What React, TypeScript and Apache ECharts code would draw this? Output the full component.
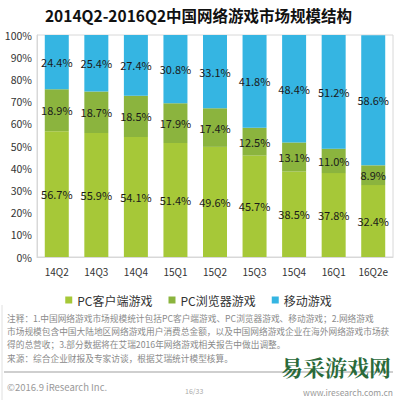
import React, { useEffect, useRef } from "react";
import * as echarts from "echarts";

const categories = ["14Q2", "14Q3", "14Q4", "15Q1", "15Q2", "15Q3", "15Q4", "16Q1", "16Q2e"];
const pcClient = [56.7, 55.9, 54.1, 51.4, 49.6, 45.7, 38.5, 37.8, 32.4];
const pcBrowser = [18.9, 18.7, 18.5, 17.9, 17.4, 12.5, 13.1, 11.0, 8.9];
const mobile = [24.4, 25.4, 27.4, 30.8, 33.1, 41.8, 48.4, 51.2, 58.6];
const seriesNames = ["PC客户端游戏", "PC浏览器游戏", "移动游戏"];
const title = "2014Q2-2016Q2中国网络游戏市场规模结构";
const notes = [
  "注释：1.中国网络游戏市场规模统计包括PC客户端游戏、PC浏览器游戏、移动游戏；2.网络游戏",
  "市场规模包含中国大陆地区网络游戏用户消费总金额，以及中国网络游戏企业在海外网络游戏市场获",
  "得的总营收；3.部分数据将在艾瑞2016年网络游戏相关报告中做出调整。",
  "来源：综合企业财报及专家访谈，根据艾瑞统计模型核算。",
];

const FONT = '"Noto Sans CJK SC", "Noto Sans", sans-serif';

export default function App() {
  const ref = useRef<HTMLDivElement>(null);
  useEffect(() => {
    if (!ref.current) return;
    const chart = echarts.init(ref.current, null, { renderer: "svg" });
    const colors = ["#A6C838", "#8BB43E", "#35B5E2"];
    const mkSeries = (name: string, data: number[], color: string) => ({
      name,
      type: "bar",
      stack: "total",
      data,
      barWidth: 24,
      itemStyle: { color },
      label: {
        show: true,
        position: "inside",
        color: "#1a1a1a",
        fontSize: 11,
        fontFamily: FONT,
        formatter: (p: any) => Number(p.value).toFixed(1) + "%",
      },
    });
    chart.setOption({
      animation: false,
      textStyle: { fontFamily: FONT },
      title: {
        text: title,
        left: "center",
        top: 2,
        textStyle: { fontSize: 15.5, fontWeight: "bold", color: "#111", fontFamily: FONT },
      },
      grid: {
        left: 37,
        right: 4,
        top: 35,
        bottom: 143,
        show: true,
        borderColor: "#d8d8d8",
        borderWidth: 1,
      },
      legend: {
        top: 289,
        left: "center",
        icon: "rect",
        itemWidth: 7,
        itemHeight: 7,
        itemGap: 16,
        textStyle: { fontSize: 12, color: "#333", fontFamily: FONT },
        data: seriesNames,
      },
      xAxis: {
        type: "category",
        data: categories,
        axisLine: { show: true, lineStyle: { color: "#d8d8d8" } },
        axisTick: { show: false },
        axisLabel: { color: "#333", fontSize: 10, margin: 9, interval: 0, fontFamily: FONT },
      },
      yAxis: {
        type: "value",
        min: 0,
        max: 100,
        interval: 10,
        splitLine: { show: false },
        axisLine: { show: true, lineStyle: { color: "#d8d8d8" } },
        axisTick: { show: false },
        axisLabel: { color: "#333", fontSize: 10.5, formatter: "{value}%", margin: 5, fontFamily: FONT },
      },
      series: [
        mkSeries(seriesNames[0], pcClient, colors[0]),
        mkSeries(seriesNames[1], pcBrowser, colors[1]),
        mkSeries(seriesNames[2], mobile, colors[2]),
      ],
      graphic: [
        ...notes.map((t, i) => ({
          type: "text",
          left: 7,
          top: 314 + i * 13.3,
          style: { text: t, fontSize: 8.7, fill: "#8a8a8a", fontFamily: FONT },
        })),
        { type: "line", shape: { x1: 4, y1: 372, x2: 393, y2: 372 }, style: { stroke: "#cfcfcf", lineWidth: 2 } },
        { type: "line", shape: { x1: 2, y1: 305, x2: 2, y2: 400 }, style: { stroke: "#e0e0e0", lineWidth: 1 } },
        {
          type: "text",
          left: 7,
          top: 382,
          style: { text: "©2016.9 iResearch Inc.", fontSize: 9.5, fill: "#999", fontFamily: FONT },
        },
        {
          type: "text",
          left: 185,
          top: 387,
          style: { text: "16/33", fontSize: 7, fill: "#aaa", fontFamily: FONT },
        },
        {
          type: "text",
          right: 6,
          top: 355,
          style: { text: "易采游戏网", fontSize: 22, fontWeight: "bold", fill: "#2a6a3a", fontFamily: '"Noto Serif CJK SC", "Noto Sans CJK SC", serif' },
        },
        {
          type: "text",
          right: 4,
          top: 388,
          style: { text: "www.iresearch.com.cn", fontSize: 8.5, fill: "#999", fontFamily: FONT },
        },
      ],
    });
    return () => chart.dispose();
  }, []);
  return <div ref={ref} style={{ width: 397, height: 400, position: "absolute", left: 0, top: 0, background: "#fff" }} />;
}
